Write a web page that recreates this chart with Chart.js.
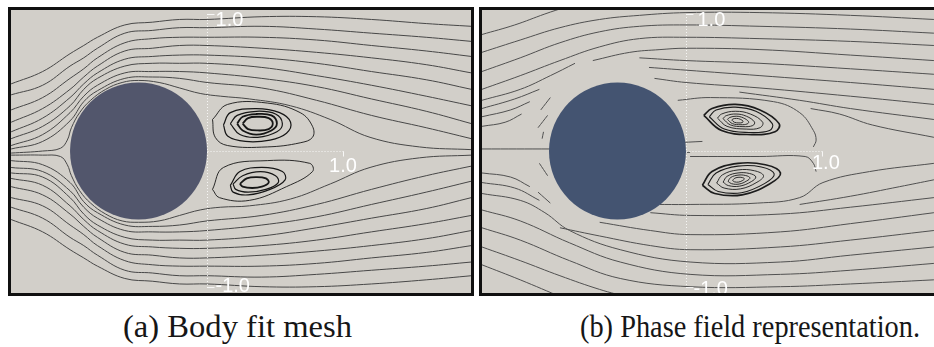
<!DOCTYPE html>
<html>
<head>
<meta charset="utf-8">
<script src="https://cdn.jsdelivr.net/npm/chart.js@4.4.0/dist/chart.umd.min.js"></script>
<style>
  html, body { margin: 0; padding: 0; background: #ffffff; width: 934px; height: 347px; overflow: hidden; position: relative; }
  .panel { position: absolute; top: 7px; border: 3px solid #101010; background: #d2cfc9; overflow: hidden; }
  #pa { left: 8px; width: 460px; height: 283px; }
  #pb { left: 479px; width: 460px; height: 283px; }
  .panel canvas { display: block; }
  .cap { position: absolute; top: 306px; font-family: "Liberation Serif", "DejaVu Serif", serif; font-size: 32px;
         line-height: 40px; color: #161616; white-space: nowrap; display: inline-block; transform-origin: 0 0; }
</style>
</head>
<body>
<div class="panel" id="pa"><canvas id="ca"></canvas></div>
<div class="panel" id="pb"><canvas id="cb"></canvas></div>
<div class="cap" id="capA" data-w="229" style="left:123px">(a) Body fit mesh</div>
<div class="cap" id="capB" data-w="340" style="left:580px">(b) Phase field representation.</div>

<script>
// ---------------- Panel (a): body fitted mesh ----------------
// x stations shared by the outer streamlines
const stationsA = [-1.43, -1.2, -1.0, -0.9, -0.8, -0.6, -0.4, -0.2, 0, 0.4, 0.8, 1.2, 1.6, 1.93];

// streamlines passing above the cylinder (outermost first)
const upperA = [
  [0.49, 0.58, 0.71, 0.77, 0.83, 0.92, 0.94, 0.96, 0.96, 0.98, 0.98, 0.96, 0.93, 0.91],
  [0.41, 0.48, 0.62, 0.68, 0.75, 0.86, 0.88, 0.90, 0.90, 0.91, 0.89, 0.86, 0.83, 0.80],
  [0.30, 0.39, 0.53, 0.60, 0.68, 0.79, 0.82, 0.83, 0.83, 0.83, 0.81, 0.77, 0.73, 0.69],
  [0.21, 0.31, 0.45, 0.54, 0.62, 0.73, 0.75, 0.77, 0.77, 0.75, 0.72, 0.68, 0.63, 0.57],
  [0.14, 0.24, 0.39, 0.49, 0.57, 0.67, 0.69, 0.70, 0.70, 0.68, 0.64, 0.58, 0.52, 0.45],
  [0.09, 0.18, 0.33, 0.45, 0.53, 0.62, 0.64, 0.64, 0.64, 0.61, 0.55, 0.48, 0.40, 0.33],
  [0.04, 0.12, 0.28, 0.40, 0.48, 0.57, 0.58, 0.58, 0.57, 0.53, 0.47, 0.38, 0.29, 0.20],
  [0.015, 0.07, 0.22, 0.36, 0.44, 0.53, 0.54, 0.53, 0.50, 0.46, 0.37, 0.26, 0.17, 0.09]
];

// streamlines passing below the cylinder (outermost first)
const lowerA = [
  [-0.50, -0.59, -0.72, -0.78, -0.84, -0.93, -0.95, -0.97, -0.97, -0.99, -0.99, -0.97, -0.94, -0.91],
  [-0.41, -0.49, -0.63, -0.69, -0.76, -0.87, -0.89, -0.91, -0.91, -0.92, -0.90, -0.87, -0.84, -0.81],
  [-0.34, -0.40, -0.54, -0.61, -0.69, -0.80, -0.83, -0.84, -0.84, -0.84, -0.82, -0.78, -0.74, -0.69],
  [-0.26, -0.32, -0.46, -0.55, -0.63, -0.74, -0.76, -0.78, -0.78, -0.76, -0.73, -0.69, -0.64, -0.58],
  [-0.20, -0.25, -0.40, -0.50, -0.58, -0.68, -0.70, -0.71, -0.71, -0.69, -0.65, -0.59, -0.53, -0.47],
  [-0.16, -0.19, -0.34, -0.46, -0.54, -0.63, -0.65, -0.65, -0.65, -0.62, -0.56, -0.49, -0.42, -0.34],
  [-0.12, -0.15, -0.29, -0.41, -0.49, -0.58, -0.59, -0.59, -0.58, -0.54, -0.48, -0.39, -0.30, -0.22],
  [-0.07, -0.10, -0.23, -0.37, -0.45, -0.54, -0.55, -0.54, -0.51, -0.47, -0.39, -0.28, -0.18, -0.11]
];

// the two streamlines hugging the cylinder wall
const wallXA = [-1.43, -1.2, -1.07, -1.02, -0.99, -0.93, -0.85, -0.74, -0.62, -0.5, -0.35, -0.2, -0.05, 0.1, 0.31, 0.61, 0.9, 1.19, 1.55, 1.93];
const wallUpperA = [-0.015, 0, 0.02, 0.08, 0.17, 0.28, 0.37, 0.45, 0.50, 0.515, 0.50, 0.46, 0.42, 0.40, 0.38, 0.33, 0.23, 0.10, 0.03, 0.01];
const wallLowerA = [-0.03, -0.03, -0.04, -0.10, -0.18, -0.29, -0.38, -0.46, -0.51, -0.52, -0.51, -0.47, -0.43, -0.41, -0.40, -0.35, -0.24, -0.12, -0.05, -0.03];

// closed recirculation loops behind the cylinder
const eddyTopA = [
  [[0.04, 0.23], [0.15, 0.34], [0.44, 0.35], [0.68, 0.28], [0.77, 0.18], [0.77, 0.10], [0.68, 0.06], [0.44, 0.03], [0.15, 0.04], [0.06, 0.10]],
  [[0.12, 0.19], [0.17, 0.28], [0.36, 0.31], [0.53, 0.28], [0.61, 0.21], [0.58, 0.13], [0.46, 0.08], [0.28, 0.07], [0.15, 0.11]],
  [[0.17, 0.20], [0.22, 0.26], [0.36, 0.29], [0.50, 0.27], [0.55, 0.20], [0.51, 0.14], [0.37, 0.10], [0.24, 0.12]],
  [[0.22, 0.20], [0.26, 0.25], [0.36, 0.27], [0.47, 0.26], [0.51, 0.20], [0.47, 0.15], [0.36, 0.12], [0.26, 0.15]],
  [[0.26, 0.20], [0.30, 0.24], [0.37, 0.25], [0.45, 0.24], [0.48, 0.20], [0.45, 0.16], [0.37, 0.15], [0.30, 0.16]]
];
const eddyBottomA = [
  [[0.04, -0.28], [0.12, -0.12], [0.44, -0.07], [0.75, -0.09], [0.77, -0.15], [0.58, -0.26], [0.31, -0.36], [0.09, -0.34]],
  [[0.17, -0.25], [0.24, -0.15], [0.40, -0.12], [0.55, -0.15], [0.57, -0.21], [0.46, -0.28], [0.30, -0.32], [0.19, -0.30]],
  [[0.19, -0.24], [0.26, -0.18], [0.39, -0.15], [0.50, -0.18], [0.52, -0.23], [0.43, -0.28], [0.30, -0.30], [0.21, -0.28]],
  [[0.24, -0.24], [0.29, -0.20], [0.36, -0.19], [0.43, -0.20], [0.45, -0.23], [0.40, -0.26], [0.33, -0.27], [0.26, -0.26]]
];

// ---------------- Panel (b): phase field representation ----------------
// streamline pieces above the wake
const upperB = [
  [[-1.49, 0.85], [-1.25, 0.92], [-1.03, 1.00], [-0.88, 1.05]],
  [[-1.49, 0.72], [-1.21, 0.81], [-0.92, 0.90], [-0.63, 0.96], [-0.34, 0.99], [0, 1.01], [0.54, 1.01], [1.20, 0.99], [1.81, 0.96]],
  [[-1.49, 0.58], [-1.21, 0.68], [-0.92, 0.79], [-0.63, 0.87], [-0.34, 0.91], [0, 0.92], [0.54, 0.91], [1.20, 0.89], [1.81, 0.86]],
  [[-1.49, 0.45], [-1.21, 0.55], [-0.92, 0.66], [-0.63, 0.76], [-0.34, 0.82], [0, 0.83], [0.54, 0.82], [1.20, 0.80], [1.81, 0.77]],
  [[-1.49, 0.37], [-1.21, 0.45], [-0.99, 0.55], [-0.81, 0.64]],
  [[-1.49, 0.31], [-1.25, 0.38], [-1.07, 0.45]],
  [[-1.49, 0.25], [-1.28, 0.30], [-1.14, 0.36]],
  [[-1.49, 0.18], [-1.32, 0.21], [-1.20, 0.27]],
  [[-0.68, 0.66], [-0.41, 0.72], [-0.19, 0.74], [0, 0.75], [0.54, 0.74], [1.20, 0.70], [1.81, 0.66]],
  [[-0.34, 0.68], [0, 0.66], [0.54, 0.64], [1.20, 0.60], [1.81, 0.56]],
  [[-0.27, 0.61], [0, 0.59], [0.54, 0.55], [1.20, 0.50], [1.81, 0.45]],
  [[-0.23, 0.53], [0, 0.50], [0.54, 0.46], [1.20, 0.40], [1.81, 0.34]],
  [[0.39, 0.43], [0.83, 0.37], [1.20, 0.31], [1.81, 0.23]],
  [[0.91, 0.31], [1.12, 0.27], [1.36, 0.19], [1.81, 0.10]],
  [[-0.06, 0.37], [0.18, 0.39], [0.64, 0.36], [0.83, 0.28], [0.93, 0.15], [0.95, 0.08], [0.93, 0.03]]
];
// short pieces near the cylinder and on the centreline
const nearB = [
  [[-1.49, 0.015], [-0.98, 0.015]],
  [[-1.06, 0.30], [-0.99, 0.39]],
  [[-1.08, 0.17], [-1.01, 0.26]],
  [[-1.05, 0.09], [-1.04, 0.14]],
  [[-1.07, -0.09], [-1.01, -0.18]],
  [[-1.08, -0.30], [-0.99, -0.38]],
  [[-0.08, 0.06], [0.12, 0.07]],
  [[-0.08, -0.01], [0.03, -0.01]],
  [[0.03, -0.04], [0.54, -0.04], [0.87, -0.04], [0.93, -0.09], [0.95, -0.15]]
];
// streamline pieces below the wake
const lowerB = [
  [[-1.49, -0.83], [-1.21, -0.94], [-0.90, -1.07]],
  [[-1.49, -0.70], [-1.21, -0.80], [-0.92, -0.91], [-0.63, -1.01], [-0.41, -1.07]],
  [[-1.49, -0.56], [-1.21, -0.65], [-0.85, -0.80], [-0.48, -0.93], [0.03, -0.99], [0.69, -0.99], [1.20, -0.97], [1.81, -0.94]],
  [[-1.49, -0.43], [-1.21, -0.51], [-0.85, -0.67], [-0.48, -0.81], [0.03, -0.90], [0.69, -0.90], [1.20, -0.87], [1.81, -0.82]],
  [[-1.49, -0.31], [-1.21, -0.36], [-1.03, -0.45], [-0.85, -0.58], [-0.48, -0.72], [0.03, -0.81], [0.69, -0.81], [1.20, -0.76], [1.81, -0.70]],
  [[-1.49, -0.23], [-1.25, -0.27], [-1.07, -0.36]],
  [[-1.49, -0.16], [-1.28, -0.19], [-1.14, -0.26]],
  [[-0.92, -0.56], [-0.63, -0.62], [-0.26, -0.69], [0.03, -0.72], [0.69, -0.70], [1.20, -0.65], [1.81, -0.58]],
  [[-0.63, -0.52], [-0.26, -0.58], [0.03, -0.61], [0.69, -0.59], [1.20, -0.53], [1.81, -0.45]],
  [[-0.26, -0.45], [0.03, -0.47], [0.69, -0.46], [1.20, -0.41], [1.81, -0.34]],
  [[0.83, -0.39], [1.20, -0.33], [1.56, -0.26], [1.81, -0.21]],
  [[-0.19, -0.39], [0.03, -0.39], [0.52, -0.38], [0.83, -0.34], [1.00, -0.23], [1.34, -0.15], [1.81, -0.09]]
];
const eddyTopB = [
  [[0.13, 0.26], [0.19, 0.31], [0.36, 0.34], [0.54, 0.30], [0.68, 0.20], [0.65, 0.14], [0.48, 0.12], [0.26, 0.15]],
  [[0.17, 0.25], [0.22, 0.30], [0.36, 0.32], [0.51, 0.29], [0.63, 0.20], [0.61, 0.15], [0.46, 0.135], [0.28, 0.16]],
  [[0.23, 0.24], [0.26, 0.27], [0.36, 0.29], [0.47, 0.27], [0.56, 0.21], [0.54, 0.17], [0.44, 0.16], [0.30, 0.18]],
  [[0.27, 0.237], [0.294, 0.258], [0.366, 0.27], [0.441, 0.254], [0.50, 0.212], [0.488, 0.186], [0.416, 0.178], [0.324, 0.191]],
  [[0.303, 0.231], [0.32, 0.245], [0.367, 0.254], [0.418, 0.242], [0.457, 0.214], [0.448, 0.198], [0.401, 0.192], [0.339, 0.20]],
  [[0.334, 0.226], [0.343, 0.234], [0.369, 0.238], [0.396, 0.232], [0.417, 0.217], [0.412, 0.208], [0.387, 0.205], [0.353, 0.21]]
];
const eddyBottomB = [
  [[0.12, -0.25], [0.19, -0.15], [0.38, -0.09], [0.58, -0.10], [0.69, -0.16], [0.61, -0.24], [0.41, -0.32], [0.21, -0.31]],
  [[0.16, -0.244], [0.22, -0.16], [0.38, -0.11], [0.55, -0.116], [0.644, -0.167], [0.576, -0.236], [0.406, -0.304], [0.235, -0.295]],
  [[0.224, -0.234], [0.266, -0.174], [0.38, -0.138], [0.50, -0.144], [0.566, -0.18], [0.518, -0.228], [0.398, -0.276], [0.278, -0.27]],
  [[0.271, -0.227], [0.30, -0.185], [0.38, -0.16], [0.464, -0.164], [0.51, -0.189], [0.477, -0.223], [0.393, -0.256], [0.309, -0.252]],
  [[0.307, -0.221], [0.327, -0.193], [0.38, -0.176], [0.436, -0.179], [0.467, -0.196], [0.444, -0.218], [0.388, -0.241], [0.332, -0.238]],
  [[0.341, -0.216], [0.352, -0.201], [0.38, -0.192], [0.41, -0.1935], [0.4265, -0.2025], [0.4145, -0.2145], [0.3845, -0.2265], [0.3545, -0.225]]
];

// cylinder: centre x, centre y, radius
const cylinder = [-0.5, 0, 0.5];
// axis tick labels
const tickLabels = ['1.0', '-1.0', '1.0'];

// ---------------- helpers ----------------
function pts(list) { return list.map(p => ({ x: p[0], y: p[1] })); }
function onStations(xs, ys) { return xs.map((x, i) => ({ x: x, y: ys[i] })); }
function loop(list) { return pts(list.concat([list[0]])); }
function line(data, color, width) {
  return { data: data, showLine: true, borderColor: color, borderWidth: width, pointRadius: 0,
           pointHoverRadius: 0, tension: 0.4, fill: false };
}

const cylinderPlugin = {
  id: 'cylinder',
  afterDatasetsDraw(chart, args, opts) {
    const { ctx, scales } = chart;
    const cx = scales.x.getPixelForValue(cylinder[0]);
    const cy = scales.y.getPixelForValue(cylinder[1]);
    const r = scales.x.getPixelForValue(cylinder[0] + cylinder[2]) - cx;
    ctx.save();
    ctx.beginPath();
    ctx.arc(cx, cy, r, 0, Math.PI * 2);
    ctx.fillStyle = opts.color;
    ctx.fill();
    ctx.restore();
  }
};

const axesPlugin = {
  id: 'frameAxes',
  afterDraw(chart, args, opts) {
    const { ctx, scales } = chart;
    const x0 = scales.x.getPixelForValue(0) + 0.5;
    const x1 = scales.x.getPixelForValue(1);
    const y0 = scales.y.getPixelForValue(0) + 0.5;
    const yTop = scales.y.getPixelForValue(1);
    const yBot = scales.y.getPixelForValue(-1);
    ctx.save();
    ctx.strokeStyle = 'rgba(255,255,255,0.85)';
    ctx.lineWidth = 1;
    ctx.setLineDash([1, 2]);
    ctx.beginPath();
    ctx.moveTo(x0, yTop); ctx.lineTo(x0, yBot);
    ctx.moveTo(x0, y0); ctx.lineTo(x1, y0);
    ctx.stroke();
    ctx.setLineDash([]);
    ctx.beginPath();
    ctx.moveTo(x0, yTop + 0.5); ctx.lineTo(x0 + 7, yTop + 0.5);
    ctx.moveTo(x0, yBot - 0.5); ctx.lineTo(x0 + 7, yBot - 0.5);
    ctx.moveTo(x1 - 0.5, y0); ctx.lineTo(x1 - 0.5, y0 + 5);
    ctx.stroke();
    ctx.fillStyle = '#ffffff';
    ctx.font = '20px "Liberation Sans", Arial, sans-serif';
    ctx.textBaseline = 'alphabetic';
    ctx.fillText(tickLabels[0], x0 + opts.topDx, yTop + 12);
    ctx.fillText(tickLabels[1], x0 + opts.botDx, yBot + opts.botDy);
    ctx.fillText(tickLabels[2], x1 + opts.rightDx, y0 + opts.rightDy);
    ctx.restore();
  }
};

function baseOptions(xmin, xmax, ymin, ymax, cylColor, axisOpts) {
  return {
    animation: false,
    responsive: true,
    maintainAspectRatio: false,
    events: [],
    layout: { padding: 0 },
    plugins: { legend: { display: false }, tooltip: { enabled: false }, cylinder: { color: cylColor }, frameAxes: axisOpts },
    scales: {
      x: { type: 'linear', min: xmin, max: xmax, display: false },
      y: { type: 'linear', min: ymin, max: ymax, display: false }
    }
  };
}

// ---------------- datasets ----------------
const streamColA = '#474747';
const dsA = [];
upperA.forEach(ys => dsA.push(line(onStations(stationsA, ys), streamColA, 1)));
lowerA.forEach(ys => dsA.push(line(onStations(stationsA, ys), streamColA, 1)));
dsA.push(line(onStations(wallXA, wallUpperA), streamColA, 1));
dsA.push(line(onStations(wallXA, wallLowerA), streamColA, 1));
eddyTopA.forEach((l, i) => dsA.push(line(loop(l), '#161616', i === 0 ? 0.9 : (i >= 3 ? 1.8 : 1.2))));
eddyBottomA.forEach((l, i) => dsA.push(line(loop(l), '#161616', i === 0 ? 0.9 : (i === 3 ? 1.8 : 1.2))));

const streamColB = '#505050';
const dsB = [];
upperB.forEach(l => dsB.push(line(pts(l), streamColB, 1)));
nearB.forEach(l => dsB.push(line(pts(l), streamColB, 1)));
lowerB.forEach(l => dsB.push(line(pts(l), streamColB, 1)));
eddyTopB.forEach((l, i) => dsB.push(line(loop(l), '#1c1c1c', i === 0 ? 1.7 : (i === 1 ? 1.1 : 0.9))));
eddyBottomB.forEach((l, i) => dsB.push(line(loop(l), '#1c1c1c', i === 0 ? 1.7 : (i === 1 ? 1.1 : 0.9))));

new Chart(document.getElementById('ca'), {
  type: 'scatter',
  data: { datasets: dsA },
  options: baseOptions(-1.431, 1.927, -1.036, 1.029, '#52566c',
    { topDx: 8, botDx: 8, botDy: 4, rightDx: -15, rightDy: 20 }),
  plugins: [cylinderPlugin, axesPlugin]
});

new Chart(document.getElementById('cb'), {
  type: 'scatter',
  data: { datasets: dsB },
  options: baseOptions(-1.489, 1.869, -1.036, 1.029, '#445471',
    { topDx: 11, botDx: 7, botDy: 7, rightDx: -11, rightDy: 17 }),
  plugins: [cylinderPlugin, axesPlugin]
});

// stretch captions to their set widths
document.querySelectorAll('.cap').forEach(el => {
  const w = el.getBoundingClientRect().width;
  el.style.transform = 'scaleX(' + (Number(el.dataset.w) / w) + ')';
});
</script>
</body>
</html>
